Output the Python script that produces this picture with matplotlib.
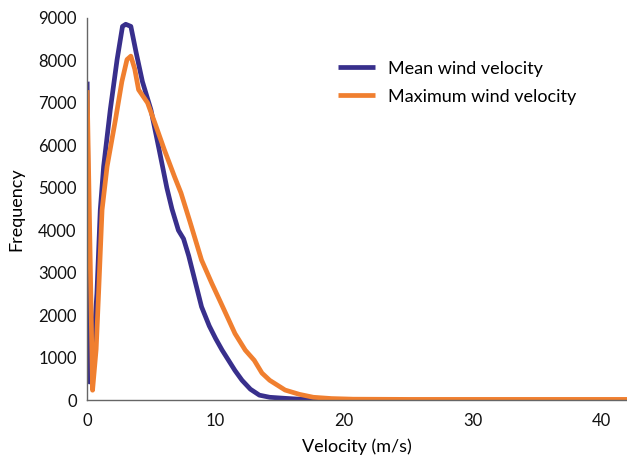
import matplotlib
matplotlib.use("Agg")
import matplotlib.pyplot as plt

plt.rcParams['font.family'] = ['Lato', 'DejaVu Sans']

# values
mean_x = [0, 0.18, 0.5, 0.76, 1.02, 1.28, 1.8, 2.33, 2.75, 3.0, 3.4, 3.8, 4.3,
          4.96, 5.6, 6.2, 6.6, 7.1, 7.5, 7.9, 8.4, 8.9, 9.5, 10.0, 10.5, 11.0,
          11.5, 12.05, 12.7, 13.4, 14.2, 15.4, 16.5, 18.1, 20, 22.5, 24.6]
mean_y = [7500, 430, 1300, 2520, 4480, 5500, 6840, 8020, 8800, 8850, 8800, 8200, 7500,
          6840, 5900, 5000, 4500, 4000, 3800, 3400, 2800, 2200, 1750, 1450, 1180, 940,
          700, 470, 260, 120, 70, 45, 25, 10, 5, 3, 2]

max_x = [0, 0.42, 0.7, 0.89, 1.16, 1.55, 2.2, 2.7, 3.1, 3.4, 3.7, 4.0, 4.7,
         5.3, 6.0, 6.8, 7.3, 8.0, 8.9, 9.7, 10.3, 11.0, 11.5, 12.3, 13.0, 13.6,
         14.2, 15.4, 16.5, 17.6, 19, 20.7, 25, 30, 35, 42]
max_y = [7300, 236, 1200, 2520, 4480, 5500, 6600, 7500, 8020, 8100, 7800, 7310, 7000,
         6500, 5900, 5260, 4880, 4200, 3300, 2750, 2360, 1900, 1570, 1180, 940, 640,
         470, 240, 140, 70, 40, 25, 20, 20, 20, 20]

fig = plt.figure(figsize=(6.27, 4.59), dpi=100)
ax = fig.add_axes([0.139, 0.128, 0.861, 0.833])

ax.plot(mean_x, mean_y, color='#382f8c', lw=3.4, solid_joinstyle='round',
        solid_capstyle='butt', label='Mean wind velocity')
ax.plot(max_x, max_y, color='#f07f2f', lw=3.4, solid_joinstyle='round',
        solid_capstyle='butt', label='Maximum wind velocity')

ax.set_xlim(0, 42)
ax.set_ylim(0, 9000)
ax.set_xticks([0, 10, 20, 30, 40])
ax.set_yticks(range(0, 9001, 1000))
ax.tick_params(length=0, labelsize=12, colors='#111111')
ax.tick_params(axis='x', pad=9)
ax.tick_params(axis='y', pad=7.5)
for side in ['top', 'right']:
    ax.spines[side].set_visible(False)
for side in ['left', 'bottom']:
    ax.spines[side].set_color('#666666')
    ax.spines[side].set_linewidth(1.0)

ax.set_xlabel('Velocity (m/s)', fontsize=13, labelpad=7)
ax.set_ylabel('Frequency', fontsize=13, labelpad=10)

ax.legend(loc='upper left', bbox_to_anchor=(0.465, 0.888), frameon=False,
          fontsize=13, handlelength=2.05, handletextpad=0.72, labelspacing=0.66,
          borderpad=0, borderaxespad=0)

fig.savefig('out.png', dpi=100)
